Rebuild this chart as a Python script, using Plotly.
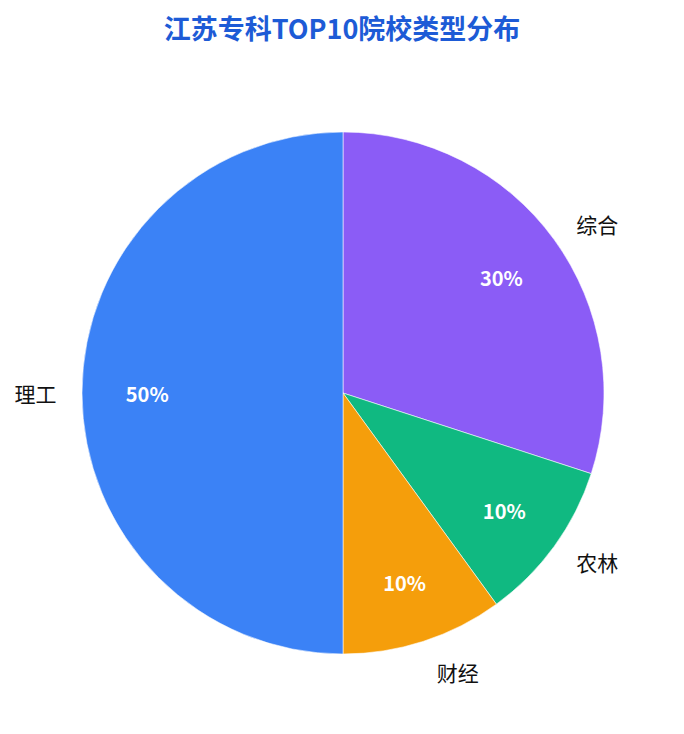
import plotly.graph_objects as go

# --- data ---
categories = ["综合", "农林", "财经", "理工"]
counts = [3, 1, 1, 5]
colors = ["#8b5cf6", "#10b981", "#f59e0b", "#3b82f6"]

W, H = 684, 734
# pie centre / radius in px from top-left of the figure
# (the page body adds an 8px margin, so shift by that)
cx, cy, r = 335, 385, 261


def dom(radius):
    yb = H - cy
    return dict(x=[(cx - radius) / W, (cx + radius) / W],
                y=[(yb - radius) / H, (yb + radius) / H])


common = dict(labels=categories, values=counts, sort=False,
              direction="clockwise", rotation=0, showlegend=False,
              automargin=False)

fig = go.Figure()

# coloured slices
fig.add_trace(go.Pie(**common, domain=dom(r), textinfo="none",
                     marker=dict(colors=colors,
                                 line=dict(color="rgba(255,255,255,0.8)", width=0.7)),
                     hovertemplate="%{label}: %{value} (%{percent})<extra></extra>"))

# percentages inside (transparent ring so text sits out toward the edge)
fig.add_trace(go.Pie(**common, domain=dom(r), hole=0.5,
                     textposition="inside", insidetextorientation="horizontal",
                     texttemplate="%{percent:.0%}",
                     textfont=dict(color="white", size=20, weight="bold",
                                   family="Noto Sans CJK SC"),
                     marker=dict(colors=["rgba(0,0,0,0)"] * 4, line=dict(width=0)),
                     hoverinfo="skip"))

# names outside
fig.add_trace(go.Pie(**common, domain=dom(279), textinfo="label",
                     textposition="outside",
                     textfont=dict(color="#111", size=21, family="Noto Sans CJK SC"),
                     marker=dict(colors=["rgba(0,0,0,0)"] * 4, line=dict(width=0)),
                     hoverinfo="skip"))

fig.update_layout(
    width=W, height=H,
    margin=dict(l=0, r=0, t=0, b=0),
    paper_bgcolor="white",
    title=dict(text="<b>江苏专科TOP10院校类型分布</b>", x=334 / W, xanchor="center",
               y=1 - 22 / H, yanchor="middle",
               font=dict(size=27, color="#1d5bd6", family="Noto Sans CJK SC")),
    font=dict(family="Noto Sans CJK SC"),
)

fig.write_html("out.html")
